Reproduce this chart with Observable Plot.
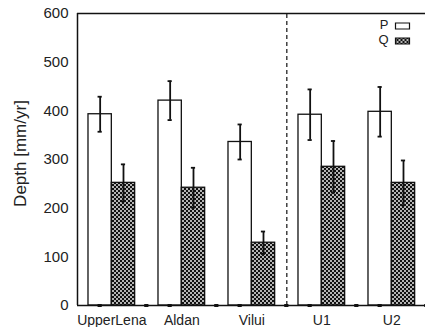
<!DOCTYPE html>
<html>
<head>
<meta charset="utf-8">
<script src="https://cdn.jsdelivr.net/npm/d3@7"></script>
<script src="https://cdn.jsdelivr.net/npm/@observablehq/plot@0.6"></script>
<style>
  html, body { margin: 0; padding: 0; background: #fff; }
  #chart svg { display: block; overflow: visible; }
</style>
</head>
<body>
<div id="chart"></div>
<script>
// ---- data ----
const basins = ["UpperLena", "Aldan", "Vilui", "U1", "U2"];
const seriesNames = ["P", "Q"];
const pValues = [393, 421, 336, 392, 398];
const pErrors = [36, 40, 36, 52, 51];
const qValues = [252, 242, 129, 285, 252];
const qErrors = [38, 41, 23, 53, 46];
const yTicks = [0, 100, 200, 300, 400, 500, 600];
const yLabel = "Depth [mm/yr]";
const dividerAfter = 2; // dashed separator after the Vilui group

// ---- build table ----
const values = [pValues, qValues];
const errors = [pErrors, qErrors];
const rows = [];
basins.forEach((b, i) => {
  seriesNames.forEach((s, k) => {
    rows.push({basin: b, series: s, x1: i + k / 3, x2: i + (k + 1) / 3,
      value: values[k][i], lo: values[k][i] - errors[k][i], hi: values[k][i] + errors[k][i]});
  });
});
const zeroCaps = basins.flatMap((b, i) => [i + 1 / 6, i + 5 / 6]);
const x0 = -0.157;              // left edge of the axes, in group units
const capHalf = 0.03;           // half width of error-bar caps, in group units
const fills = {P: "white", Q: "url(#checker)"};

const rectSym = {draw(ctx) { ctx.rect(-7, -3, 14, 6); }};

const font = "'Liberation Sans', Arial, Helvetica, sans-serif";

const chart = Plot.plot({
  width: 425,
  height: 327,
  marginTop: 13,
  marginBottom: 22,
  marginLeft: 77,
  marginRight: 0,
  style: {fontFamily: font, fontSize: "14px", color: "#222", background: "white"},
  x: {type: "linear", domain: [x0, x0 + 5], range: [77, 427]},
  y: {domain: [0, 600], range: [305, 13]},
  marks: [
    Plot.rectY(rows, {x1: "x1", x2: "x2", y: "value",
      fill: d => fills[d.series], stroke: "#111", strokeWidth: 1.3}),
    Plot.ruleX([dividerAfter + 5 / 6], {y1: 0, y2: 600, stroke: "#111",
      strokeWidth: 1.2, strokeDasharray: "4,3"}),
    Plot.ruleX(rows, {x: d => (d.x1 + d.x2) / 2, y1: "lo", y2: "hi", stroke: "#111", strokeWidth: 1.8}),
    Plot.ruleY(rows, {y: "hi", x1: d => (d.x1 + d.x2) / 2 - capHalf, x2: d => (d.x1 + d.x2) / 2 + capHalf, stroke: "#111", strokeWidth: 1.8}),
    Plot.ruleY(rows, {y: "lo", x1: d => (d.x1 + d.x2) / 2 - capHalf, x2: d => (d.x1 + d.x2) / 2 + capHalf, stroke: "#111", strokeWidth: 1.8}),
    Plot.ruleY(zeroCaps, {y: 0, x1: d => d - capHalf, x2: d => d + capHalf, stroke: "#111", strokeWidth: 3}),
    Plot.ruleY([0, 600], {stroke: "#111", strokeWidth: 1.5}),
    Plot.ruleX([x0], {y1: 0, y2: 600, stroke: "#111", strokeWidth: 1.5}),
    Plot.axisY(yTicks, {anchor: "left", tickSize: 0, tickPadding: 9, fontSize: 15, label: null}),
    Plot.text([yLabel], {frameAnchor: "left", rotate: -90, dx: -57, dy: -6, fontSize: 17,
      text: d => d, textAnchor: "middle", lineAnchor: "middle", fill: "#222"}),
    Plot.axisX(basins.map((b, i) => i + 1 / 3), {anchor: "bottom", tickSize: 0, tickPadding: 10,
      fontSize: 14, tickFormat: d => basins[Math.round(d - 1 / 3)], label: null}),
    ...seriesNames.map((s, i) => Plot.text([s], {frameAnchor: "top-right", dx: -37, dy: 11 + i * 15,
      text: d => d, textAnchor: "end", lineAnchor: "middle", fontSize: 13, fill: "#222"})),
    ...seriesNames.map((s, i) => Plot.dot([s], {frameAnchor: "top-right", dx: -23, dy: 12.5 + i * 15,
      symbol: rectSym, fill: fills[s], stroke: "#111", strokeWidth: 1.2}))
  ]
});

d3.select(chart).insert("defs", ":first-child").html(
  `<pattern id="checker" width="4" height="4" patternUnits="userSpaceOnUse">
     <rect width="4" height="4" fill="#b4b4b4"/>
     <rect width="2" height="2" fill="#111"/>
     <rect x="2" y="2" width="2" height="2" fill="#111"/>
   </pattern>`);

document.getElementById("chart").appendChild(chart);
</script>
</body>
</html>
